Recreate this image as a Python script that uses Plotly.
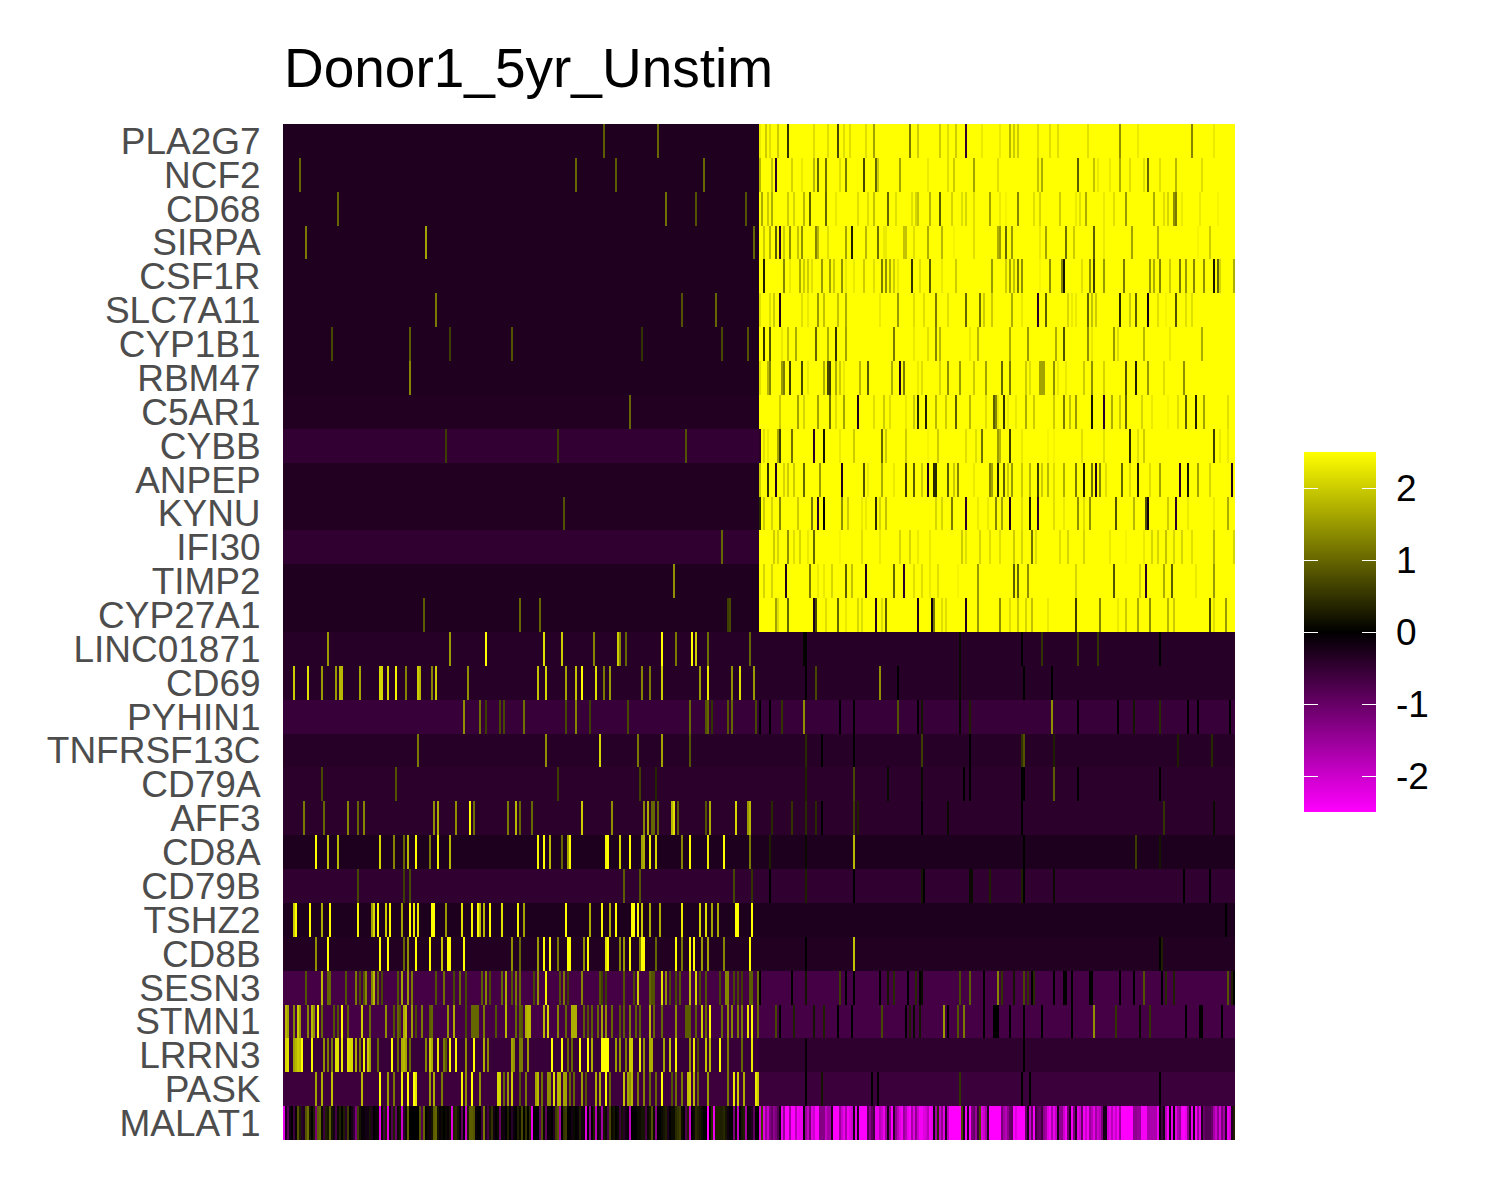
import plotly.graph_objects as go

GENES = ["PLA2G7","NCF2","CD68","SIRPA","CSF1R","SLC7A11","CYP1B1","RBM47","C5AR1","CYBB","ANPEP","KYNU","IFI30","TIMP2","CYP27A1",
         "LINC01871","CD69","PYHIN1","TNFRSF13C","CD79A","AFF3","CD8A","CD79B","TSHZ2","CD8B","SESN3","STMN1","LRRN3","PASK","MALAT1"]
N_CELLS = 476
SPLIT = 238
LEFT_BASE = [-0.3,-0.3,-0.3,-0.3,-0.3,-0.3,-0.3,-0.3,-0.32,-0.5,-0.33,-0.33,-0.47,-0.3,-0.3,
             -0.38,-0.38,-0.55,-0.38,-0.42,-0.42,-0.28,-0.47,-0.28,-0.33,-0.68,-0.68,-0.55,-0.6,0.0]
RIGHT_BASE = [2.5]*15 + [-0.38,-0.38,-0.55,-0.38,-0.42,-0.42,-0.28,-0.47,-0.28,-0.33,-0.68,-0.68,-0.45,-0.58,-1.5]

PLA2G7 = {160:0.9,187:1.0,238:2.3,241:2.0,243:2.2,247:2.0,252:0.5,265:2.2,272:2.2,277:0.7,280:2.2,283:2.2,291:2.2,295:1.6,313:1.2,317:2.0,328:2.0,332:2.2,336:2.0,341:-0.5,349:2.3,358:2.3,363:1.8,365:2.0,367:2.0,377:2.2,383:2.2,387:2.2,402:2.2,418:1.4,427:2.3,454:1.3,465:2.3}
NCF2 = {8:1.0,146:1.0,166:0.9,210:1.0,238:1.8,244:1.9,246:-0.4,254:2.1,259:2.3,265:1.8,267:1.0,271:1.1,278:2.2,281:1.2,290:0.7,296:1.0,297:2.0,308:1.6,322:2.3,332:2.2,335:2.0,345:1.6,357:2.2,377:1.9,379:1.7,397:0.9,405:1.9,407:2.3,413:2.3,418:1.7,423:2.2,430:2.2,432:1.0,438:2.2,446:1.8,459:2.2}
CD68 = {27:1.0,191:1.1,206:0.8,231:0.8,239:1.7,242:2.0,244:1.7,252:2.0,255:2.1,260:1.8,263:0.9,271:1.0,276:2.3,287:2.2,292:2.2,295:1.9,302:1.0,306:2.2,314:2.2,316:2.1,317:1.9,323:1.8,328:0.9,334:2.1,339:2.2,341:2.1,345:2.2,353:1.6,358:2.3,361:2.4,367:1.3,375:2.2,378:2.1,388:2.0,396:2.3,398:2.2,401:1.7,410:2.3,415:2.2,421:1.5,435:1.7,440:2.2,442:2.1,445:1.4,446:1.2,449:2.3,458:2.3,467:2.4}
SIRPA = {11:1.2,71:1.6,235:1.0,240:2.0,243:1.8,246:0.9,248:-0.4,250:2.0,253:1.4,257:1.9,259:1.4,266:1.3,267:1.8,272:2.2,281:1.6,284:0.3,291:1.8,297:1.1,300:2.3,301:2.3,310:1.9,311:1.9,315:2.2,322:1.7,329:1.8,335:2.4,345:2.2,357:1.7,358:1.5,361:1.0,364:1.5,378:2.3,381:1.6,391:1.1,395:2.0,405:0.9,410:2.3,424:1.6,437:1.8,457:2.4,463:2.0}
CSF1R = {240:0.3,250:1.3,253:2.3,258:1.7,260:2.0,262:2.0,264:2.2,269:1.5,273:1.6,275:2.0,279:1.4,281:2.3,285:2.3,290:2.0,295:2.2,299:1.2,301:1.4,303:1.7,305:2.0,307:2.3,314:0.5,318:2.2,323:0.9,329:2.3,336:2.0,354:1.5,361:2.0,363:1.6,365:1.9,367:1.2,369:1.4,378:2.4,383:1.4,389:1.3,390:0.2,399:2.2,403:1.4,405:0.6,410:1.5,420:1.2,433:1.5,435:1.7,438:1.3,443:2.0,448:1.2,451:1.5,455:1.3,460:1.4,465:0.2,467:1.0,468:2.1,475:1.7}
SLC7A11 = {76:1.2,199:0.8,216:1.0,238:2.2,243:2.2,245:2.0,248:-0.3,259:2.2,262:2.3,267:1.5,270:1.9,277:1.9,281:1.7,298:2.3,307:1.5,315:2.2,320:2.2,326:1.2,332:2.2,341:1.0,348:1.1,350:2.0,354:2.0,364:1.7,369:2.3,377:-0.4,381:0.9,392:2.1,394:2.3,396:2.3,402:1.0,404:1.9,406:2.0,418:0.4,423:2.0,426:0.9,432:-0.2,437:2.2,441:2.4,446:0.8,451:2.2,454:2.2}
CYP1B1 = {24:0.7,63:0.9,83:0.6,114:0.8,179:0.5,219:0.7,232:0.8,240:0.5,243:0.8,249:2.3,252:1.9,256:1.7,266:1.0,272:1.7,276:0.5,281:1.6,305:1.2,315:2.3,322:2.2,326:1.3,328:1.8,343:2.3,347:1.8,363:1.7,372:1.5,386:1.7,390:0.8,402:1.4,404:2.3,415:1.5,417:2.2,430:1.8,443:2.3,459:1.7}
RBM47 = {63:1.3,238:2.2,242:1.8,243:1.3,249:1.5,250:1.2,253:0.6,259:0.7,262:2.3,270:1.7,272:0.7,273:0.6,276:1.7,278:2.0,280:2.3,288:1.8,292:0.9,304:1.7,308:-0.3,310:1.2,317:2.3,319:2.2,328:2.1,332:1.4,338:1.5,345:2.0,351:1.6,359:1.0,363:1.2,371:2.0,373:2.2,378:1.6,379:1.6,380:1.6,385:1.4,387:2.3,391:2.3,400:2.0,404:1.4,410:2.1,421:0.8,426:0.3,432:1.5,440:2.2,450:1.4}
C5AR1 = {173:1.0,248:2.0,257:1.6,260:2.1,267:1.6,273:1.1,276:2.2,280:1.6,287:-0.3,295:2.2,300:2.0,303:2.2,311:2.3,315:2.0,317:0.4,321:0.3,326:1.8,331:2.0,336:0.9,343:1.8,351:2.2,355:0.9,356:1.3,357:2.3,360:0.5,362:2.3,366:2.3,371:1.7,375:2.0,385:2.0,390:1.2,393:1.9,396:1.5,404:0.2,410:-0.4,414:1.7,418:2.0,421:1.0,429:2.1,434:2.3,442:2.4,447:2.2,451:0.9,456:0.3,460:1.6,472:2.2}
CYBB = {81:0.6,137:0.6,201:0.8,238:-0.4,240:2.2,242:2.3,247:1.6,248:0.6,254:1.1,265:-0.4,270:0.2,278:2.3,285:2.0,299:1.0,301:2.0,311:2.0,322:2.4,327:2.0,341:2.2,346:2.2,349:1.1,357:1.5,358:1.8,363:0.6,369:2.3,382:2.4,385:2.4,399:2.2,410:2.2,423:0.4,427:2.2,430:2.0,465:0.6,468:2.3,472:2.3}
ANPEP = {238:2.0,242:0.5,246:-0.3,250:2.1,252:2.0,255:2.0,260:1.0,268:1.5,279:-0.3,290:0.8,292:2.3,299:1.7,305:2.3,311:0.6,315:0.9,319:2.0,322:-0.3,325:0.4,326:0.4,332:0.9,335:2.0,337:1.3,345:2.3,353:1.3,354:1.6,357:0.3,360:0.9,362:2.0,364:1.5,369:2.0,373:1.8,377:0.6,379:2.0,382:1.8,385:2.2,390:1.7,396:1.2,400:0.3,404:1.1,406:-0.3,408:1.3,411:2.2,419:1.0,423:2.2,427:0.3,433:2.2,438:1.6,448:-0.4,452:0.2,457:1.6,463:2.1,474:-0.3}
KYNU = {140:0.8,238:0.4,240:2.0,244:2.1,248:1.3,257:2.0,264:1.2,267:-0.4,270:0.0,279:1.4,282:2.0,289:2.3,291:2.3,296:0.4,298:2.1,301:1.9,326:2.1,329:2.1,334:1.2,341:-0.4,347:2.3,352:2.3,356:1.3,359:1.6,363:-0.3,369:2.2,373:0.3,377:-0.4,385:2.2,390:2.3,397:1.4,400:2.2,403:1.4,416:0.8,425:1.8,431:0.8,432:-0.2,442:2.0,446:-0.4,452:2.3,465:2.3,472:1.7}
IFI30 = {219:1.0,245:2.0,247:2.1,252:1.4,255:2.2,258:2.1,262:2.3,265:1.0,278:2.4,289:2.2,298:2.3,308:2.1,313:2.1,317:2.3,323:2.3,339:2.0,341:2.2,348:2.1,353:2.2,358:2.2,365:2.0,369:2.1,374:1.1,376:2.2,388:2.2,392:2.1,400:2.1,413:2.3,421:2.4,430:2.3,434:2.1,437:2.1,441:1.9,445:2.1,449:2.1,454:2.2,465:1.8,475:2.1}
TIMP2 = {195:1.4,240:2.1,244:2.1,251:-0.3,263:1.2,267:2.3,270:2.3,274:2.1,281:0.9,284:1.9,291:-0.3,305:1.0,310:-0.4,315:2.2,319:2.2,323:2.3,327:2.2,337:2.4,347:1.5,365:0.9,367:1.0,372:1.4,396:2.1,415:0.8,428:2.1,431:-0.4,440:1.7,444:0.9,456:2.3,465:1.5}
CYP27A1 = {70:0.9,118:1.0,128:1.0,222:0.6,223:0.7,246:1.6,247:2.2,252:1.0,265:-0.3,266:0.7,271:2.2,277:1.0,281:2.3,287:2.1,289:2.2,296:-0.3,299:2.2,301:0.9,317:-0.3,324:-0.2,325:1.2,329:2.2,331:2.2,341:-0.3,347:1.5,358:1.4,363:2.2,367:2.0,371:2.1,374:1.9,382:2.3,396:0.6,408:1.3,417:2.3,421:2.0,427:1.7,433:1.4,442:1.8,445:2.0,463:0.7,465:2.2,471:1.5}
LINC01871 = {22:1.5,83:1.5,101:2.5,130:2.2,139:2.0,155:1.3,167:2.0,168:1.3,171:1.0,189:2.5,196:1.2,204:2.5,206:2.0,212:1.1,233:1.0,260:0.05,261:0.0,338:0.1,369:0.0,379:0.5,397:0.6,407:0.5,438:0.0}
CD69 = {5:2.0,12:2.2,19:1.5,26:1.5,28:1.8,29:1.8,38:1.6,48:2.1,49:2.1,52:2.1,56:2.4,61:1.3,67:2.0,68:1.8,74:1.3,76:2.0,92:1.4,127:1.9,131:2.1,141:1.6,146:1.9,149:2.5,156:2.2,160:1.2,163:1.5,179:1.3,183:1.2,189:2.0,208:1.5,212:2.3,224:1.4,228:2.2,235:1.5,261:0.0,266:0.7,298:1.4,307:0.0,338:0.1,370:0.0,384:0.0}
PYHIN1 = {90:1.4,98:1.1,101:0.6,108:0.7,110:0.7,120:1.1,141:0.7,146:1.3,153:0.6,172:0.7,203:1.0,211:0.8,212:1.0,214:0.5,222:0.8,224:1.0,236:0.7,238:0.0,243:0.0,249:0.5,260:1.4,278:0.0,285:0.0,307:0.8,317:0.0,319:0.2,338:0.1,343:0.3,384:1.4,397:0.0,417:0.0,425:0.2,438:0.4,452:0.0,457:0.0,473:0.0}
TNFRSF13C = {67:1.2,131:1.4,158:2.1,177:1.2,189:1.6,203:0.8,261:0.4,269:0.0,285:0.0,319:0.6,343:0.0,369:0.5,370:0.8,385:0.3,447:0.3,464:0.4}
CD79A = {19:0.7,56:0.8,137:0.6,178:0.6,186:0.35,261:0.3,285:0.7,302:0.1,319:0.1,340:0.0,343:0.0,369:0.0,370:0.0,385:0.9,397:0.0,438:0.0}
AFF3 = {10:1.2,20:1.0,32:1.3,37:1.0,40:1.3,75:1.4,77:1.7,86:1.4,93:2.5,95:1.1,112:1.2,116:1.8,118:1.0,124:1.0,149:2.0,164:1.4,180:1.3,182:1.7,184:1.0,185:1.0,187:1.0,194:1.8,195:2.2,197:0.9,211:0.8,213:1.7,226:2.1,232:1.5,233:1.8,244:0.4,254:0.5,261:0.4,266:0.4,269:0.0,285:0.6,287:0.3,319:0.0,332:0.1,369:0.0,440:0.5,465:0.1}
CD8A = {16:2.5,22:1.9,27:1.8,48:2.1,55:1.3,60:1.0,62:1.8,66:2.5,73:1.2,77:2.4,83:1.8,127:2.4,130:2.5,133:1.8,139:1.0,142:1.6,143:2.5,161:2.4,162:2.5,168:2.1,173:2.5,179:1.6,180:1.7,183:2.4,186:2.1,199:1.3,203:2.5,212:2.3,220:2.5,233:1.2,243:0.3,261:0.1,285:1.8,370:0.0,426:0.6,438:0.2}
CD79B = {37:0.7,60:0.6,63:0.7,170:0.9,178:0.8,225:0.7,234:0.5,243:0.0,261:0.3,285:0.0,319:0.2,320:0.0,343:0.1,344:0.1,353:0.3,369:0.3,370:0.0,385:0.1,450:0.0,463:0.0}
TSHZ2 = {5:2.0,6:2.5,13:2.5,19:1.7,23:2.5,37:2.4,44:1.6,45:2.1,47:2.5,51:2.0,53:2.5,59:1.6,63:2.5,65:2.3,67:2.3,74:2.5,75:2.5,81:1.5,89:2.2,94:2.4,97:2.5,98:1.8,100:1.8,103:2.5,109:2.2,117:2.4,120:1.6,141:2.5,153:1.7,159:2.4,163:1.7,166:2.5,174:2.5,175:2.5,177:2.5,179:2.0,183:1.7,188:1.7,199:2.3,208:2.1,211:2.2,214:1.6,217:1.7,226:2.5,227:2.5,234:2.5,471:0.0}
CD8B = {16:1.4,22:2.5,48:2.5,52:2.5,60:1.0,62:1.4,66:2.5,73:2.5,79:1.9,82:2.5,83:2.5,90:2.5,114:1.4,118:1.0,127:1.5,130:2.5,133:2.5,137:1.2,142:2.5,143:2.5,150:1.4,152:2.5,161:2.2,162:2.5,168:1.3,170:1.5,173:2.5,178:1.3,179:2.5,180:2.5,186:1.0,196:2.5,199:1.2,203:2.5,205:2.5,209:1.5,212:1.6,220:1.3,233:2.5,261:0.0,285:1.9,438:0.0,439:0.3}
SESN3 = {11:0.8,19:1.8,22:1.0,23:1.0,31:0.8,36:1.2,38:0.7,40:0.8,41:1.3,44:1.3,45:1.8,47:1.0,49:0.7,57:0.8,59:1.6,62:1.5,64:1.2,76:0.8,80:1.1,85:0.7,88:1.0,91:0.7,99:0.9,101:1.3,103:0.7,109:1.0,111:1.7,114:0.8,116:1.2,118:1.0,125:0.7,127:1.4,131:2.4,138:0.8,140:1.2,142:0.6,149:1.3,158:0.8,159:0.6,161:0.6,170:0.8,175:0.7,177:2.0,183:1.0,184:0.8,185:0.8,189:2.2,191:1.4,193:0.7,196:0.7,198:0.8,203:1.8,206:2.1,208:0.7,211:0.8,218:0.7,221:1.3,222:1.3,225:0.7,227:0.7,229:0.6,233:0.9,234:0.9,237:1.1,238:0.0,254:0.0,261:0.2,278:0.6,281:0.0,285:0.0,298:0.0,302:0.2,305:0.4,312:0.0,316:0.4,318:0.0,319:0.1,338:0.7,343:0.9,350:0.0,357:1.3,359:0.5,365:0.2,370:0.7,372:0.5,374:0.0,375:0.4,385:0.0,390:0.0,391:0.0,394:0.0,403:0.0,404:0.0,418:0.0,425:0.0,430:0.8,439:0.0,441:0.4,445:0.3,472:0.8,474:0.3,475:0.0}
STMN1 = {1:1.8,2:1.6,5:1.3,7:2.0,8:1.5,12:1.3,14:1.8,15:1.4,17:2.5,19:1.0,25:0.8,27:0.8,29:2.5,32:0.9,39:2.0,43:1.0,51:1.4,55:0.8,57:1.0,58:0.8,60:1.7,61:1.9,64:1.5,66:0.7,69:1.2,73:0.9,74:1.0,82:1.4,85:1.7,91:0.7,94:1.0,95:1.0,96:1.0,97:1.0,100:1.2,106:0.8,111:1.8,116:1.0,118:0.9,119:0.8,121:1.7,122:1.8,123:1.8,130:1.8,132:2.1,137:1.3,141:1.0,144:1.7,145:1.7,146:1.7,150:0.9,152:0.8,154:0.9,157:1.0,159:1.6,161:1.4,164:1.0,168:0.8,170:0.9,173:1.2,176:0.9,178:0.9,183:1.8,185:1.0,189:1.0,196:1.4,201:0.9,202:0.9,203:0.9,206:0.9,209:2.0,211:1.0,213:2.5,219:1.0,222:1.4,224:1.3,227:1.2,229:1.2,232:2.3,234:2.5,237:1.0,246:0.7,248:0.0,255:0.3,265:0.2,270:0.3,277:0.0,284:0.0,299:0.7,311:0.0,313:0.3,315:0.1,318:0.2,330:1.5,332:0.0,337:0.8,340:1.2,350:0.0,355:0.0,356:0.0,357:0.0,363:0.0,370:0.0,379:0.0,394:0.0,405:1.4,416:0.5,428:0.1,433:0.5,451:0.0,458:0.0,459:0.0,469:0.0}
LRRN3 = {1:2.1,2:2.2,5:1.6,6:1.8,7:2.0,8:1.9,9:2.5,14:2.4,20:1.4,22:1.2,24:1.2,26:2.2,27:2.2,29:2.3,32:2.2,33:2.1,34:2.1,36:1.7,38:1.2,40:2.4,42:2.0,43:1.6,47:1.0,54:2.5,57:1.0,59:1.7,60:1.8,61:1.6,63:1.0,71:1.3,73:2.0,74:1.7,77:2.3,80:1.2,81:0.9,83:2.5,86:2.4,91:1.4,95:2.5,100:1.7,102:1.3,114:1.6,115:1.4,118:1.2,119:1.2,122:1.5,134:2.5,139:2.5,142:1.0,144:1.0,148:2.5,152:2.5,154:1.7,159:2.5,160:2.5,161:2.5,162:2.5,166:1.5,168:1.4,171:1.2,173:2.0,174:2.0,178:2.3,180:1.4,183:1.7,184:1.7,190:1.6,193:1.9,196:2.4,203:1.4,205:2.3,207:0.7,211:1.9,213:1.8,218:2.5,222:1.2,229:1.0,234:2.3,261:-0.1,370:0.0}
PASK = {16:1.6,19:1.7,24:1.9,39:1.8,48:2.5,52:1.5,55:1.2,59:2.3,62:2.5,65:2.5,66:2.3,73:1.5,75:1.7,79:1.2,89:2.4,91:1.4,94:2.5,98:1.4,107:2.1,108:2.1,110:1.0,112:1.5,114:2.0,118:0.8,121:1.2,126:1.6,127:1.8,129:1.1,132:1.4,133:1.4,135:2.2,137:1.8,138:1.8,140:1.6,141:1.6,143:1.0,145:1.0,149:1.5,151:0.8,156:1.7,158:1.7,161:2.5,163:1.0,170:1.9,172:1.6,173:1.4,174:1.8,177:1.2,180:1.3,183:1.0,186:1.0,189:2.5,194:0.8,196:1.1,199:1.2,202:1.9,203:2.0,205:1.8,207:1.0,212:1.5,222:1.2,225:2.3,227:2.0,230:1.7,236:2.3,237:2.0,261:0.0,269:0.2,294:0.0,297:0.0,338:0.5,369:0.0,373:0.0,438:0.0}
MALAT1_LEFT = [-2.3,-0.3,-0.9,-0.2,0.0,-0.6,-0.1,0.8,0.3,-0.4,-0.3,0.8,1.1,0.2,0.0,0.3,-1.2,0.9,1.0,0.1,-0.6,0.3,0.2,0.9,0.2,-0.2,-0.7,0.1,0.3,0.0,
 0.3,-0.4,0.6,0.0,-0.2,-0.5,-1.2,0.6,0.2,-0.1,-0.1,-0.2,-0.2,0.2,-0.3,0.0,-0.1,0.1,-2.3,0.1,-0.7,0.3,-2.2,0.1,-0.8,0.3,-1.0,0.1,0.2,-2.0,
 -0.4,0.1,0.9,0.0,0.0,0.0,0.0,0.0,0.8,-0.8,1.0,0.0,0.1,-0.2,0.2,0.9,1.0,0.2,-0.1,0.1,0.0,0.1,-0.1,0.2,-2.2,0.3,0.4,0.2,-0.1,-0.9,
 0.0,-2.0,0.3,0.9,0.9,0.8,-0.1,0.0,0.0,-0.6,1.2,-0.3,-0.7,0.2,0.5,-0.2,0.0,0.1,-1.0,0.1,-0.2,0.0,0.3,0.0,-0.4,-0.1,0.0,0.3,0.1,0.7,
 0.0,0.5,0.0,0.4,-2.3,0.0,0.0,0.0,-0.9,0.8,0.1,-0.9,-0.1,-0.1,0.0,-0.3,0.6,0.8,-1.6,0.0,0.5,0.6,0.0,0.0,-0.2,0.1,0.0,-0.1,0.3,-0.2,
 0.1,-2.2,0.0,-1.4,0.0,0.3,-1.8,0.1,-0.3,-1.6,0.2,0.1,-0.7,0.7,0.1,0.2,0.0,0.1,-0.6,0.2,-0.4,-0.2,-0.1,-1.9,0.0,0.0,0.0,0.1,0.1,0.2,
 0.2,-0.7,0.1,0.2,0.8,0.1,-1.3,0.0,0.0,0.1,0.2,0.3,-0.3,0.0,0.1,0.1,0.4,0.5,0.6,0.1,0.0,-0.8,0.3,-2.0,0.0,0.1,0.4,0.3,0.2,0.1,
 0.0,0.0,-2.5,0.0,0.4,-2.3,0.3,0.3,0.3,0.3,0.4,0.2,-0.2,0.0,0.0,-1.2,0.1,-1.9,0.0,0.2,0.3,-1.6,0.1,-0.2,-0.3,-0.9,0.0,0.0]
MALAT1_RIGHT = [-2.2,0.6,-2.2,-1.5,-2.0,-1.3,-1.0,-1.4,-1.2,-0.8,
 -0.2,-2.3,-1.5,-2.5,-2.5,-1.6,-2.5,-2.5,-1.8,-2.4,
 -2.3,-2.3,-0.1,-1.5,-1.9,-1.2,-2.2,-2.0,-2.5,-2.5,
 -1.3,-1.3,-1.3,-1.9,-1.6,-1.6,-0.3,-2.5,-2.5,-2.5,
 -1.5,-2.0,-2.3,-1.7,-2.4,-2.2,-2.0,-0.2,-2.3,-0.3,
 -2.5,-2.5,-2.5,-2.5,-0.8,-1.3,-0.9,-0.6,-2.3,-2.3,
 -1.8,-2.0,-2.3,-1.5,-0.2,-1.4,-2.5,-0.4,-1.4,-1.8,
 -2.2,-2.4,-1.5,-1.8,-2.3,-2.5,-1.6,-2.2,-1.4,-2.0,
 -2.4,-2.4,-2.2,-2.1,-1.8,-2.4,-2.3,-0.2,-1.6,0.4,
 -2.0,-1.4,-2.2,-0.3,-1.8,-2.5,-2.5,-2.5,-2.5,-2.5,
 -2.5,0.7,-0.2,-2.4,-0.3,-2.5,-1.2,-1.0,-1.5,-0.6,
 0.7,-2.2,-2.0,-1.6,-0.3,-2.5,-2.5,-2.5,-2.5,-2.5,
 -2.5,-1.2,-1.6,-1.8,-1.4,-1.0,-0.9,-2.5,-2.2,-2.5,
 -2.5,-2.5,-2.5,-1.0,-0.2,-2.0,-1.0,-2.4,-0.6,-0.9,
 -1.0,-0.6,-1.4,-1.6,-2.2,-2.4,-1.7,-2.3,-1.9,-0.2,
 -1.4,-1.4,-2.0,-2.4,-1.1,-0.3,-2.4,-1.2,-0.3,-2.2,
 -2.0,-1.0,-2.4,-2.0,-2.4,-1.5,-1.8,-2.2,-1.6,-2.0,
 -1.8,-1.2,-0.2,-0.2,-2.0,-2.3,-1.8,-2.3,-2.0,-2.4,
 -1.5,-2.5,-2.5,-2.5,-2.5,-2.5,-2.5,-1.4,-1.4,-1.5,
 -1.5,-2.4,-2.4,-2.4,-1.7,-1.7,-1.7,-1.7,-1.7,-2.3,
 -0.1,-0.6,-0.2,-1.8,-2.4,-0.2,-2.3,-0.1,-2.2,-1.7,
 -1.5,-2.4,-2.5,-2.3,-1.4,-0.4,-2.3,-0.2,-2.4,-1.5,
 -2.2,-0.3,-1.0,-0.8,-0.8,-0.8,-1.0,-1.6,-2.0,-1.4,
 -2.1,-1.2,-1.6,-0.4,-2.3,-2.1,-0.3,0.3]
COLORBAR_TICKS = [-2, -1, 0, 1, 2]
COLORBAR_LABELS = ["-2", "-1", "0", "1", "2"]
TITLE = "Donor1_5yr_Unstim"

CELLS = [PLA2G7,NCF2,CD68,SIRPA,CSF1R,SLC7A11,CYP1B1,RBM47,C5AR1,CYBB,ANPEP,KYNU,IFI30,TIMP2,CYP27A1,
         LINC01871,CD69,PYHIN1,TNFRSF13C,CD79A,AFF3,CD8A,CD79B,TSHZ2,CD8B,SESN3,STMN1,LRRN3,PASK]

z = []
for i, gene in enumerate(GENES):
    row = [LEFT_BASE[i]] * SPLIT + [RIGHT_BASE[i]] * (N_CELLS - SPLIT)
    if gene == "MALAT1":
        for j, v in enumerate(MALAT1_LEFT[:SPLIT]):
            row[j] = v
        for j, v in enumerate(MALAT1_RIGHT[:N_CELLS - SPLIT]):
            row[SPLIT + j] = v
    else:
        for j, v in CELLS[i].items():
            if j < N_CELLS:
                row[j] = v
    z.append(row)

OFFSET = 8  # default page margin of the written html
FIG_W, FIG_H = 1484, 1184
L, R, T, B = 283 - OFFSET, FIG_W - (1235 - OFFSET), 124 - OFFSET, FIG_H - (1140 - OFFSET)
plot_w, plot_h = 1235 - 283, 1140 - 124
SCALE = [[0, "#ff00ff"], [0.5, "#000000"], [1, "#ffff00"]]
CB_Y = (1140 - 632) / plot_h

fig = go.Figure(go.Heatmap(
    z=z, x=list(range(N_CELLS)), y=GENES, zmin=-2.5, zmax=2.5, colorscale=SCALE,
    colorbar=dict(
        x=(1304 - 283) / plot_w, xanchor="left", y=CB_Y, yanchor="middle",
        thickness=72, thicknessmode="pixels", len=360, lenmode="pixels",
        xpad=0, ypad=0, outlinewidth=0, borderwidth=0,
        tickmode="array", tickvals=COLORBAR_TICKS, ticktext=COLORBAR_LABELS,
        ticks="outside", ticklen=13, tickcolor="rgba(0,0,0,0)",
        tickfont=dict(family="Liberation Sans", size=37, color="black"),
    ),
))

# Two narrow companion colour bars carry the white tick marks on both inner edges of the bar.
for left_px in (1304, 1362):
    fig.add_trace(go.Heatmap(
        z=z, x=list(range(N_CELLS)), y=GENES, zmin=-2.5, zmax=2.5, colorscale=SCALE,
        colorbar=dict(
            x=(left_px - 283) / plot_w, xanchor="left", y=CB_Y, yanchor="middle",
            thickness=14, thicknessmode="pixels", len=360, lenmode="pixels",
            xpad=0, ypad=0, outlinewidth=0, borderwidth=0,
            tickmode="array", tickvals=COLORBAR_TICKS, showticklabels=False,
            ticks="inside", ticklen=14, tickwidth=1.3, tickcolor="white",
        ),
    ))

fig.update_layout(
    width=FIG_W, height=FIG_H, autosize=False,
    margin=dict(l=L, r=R, t=T, b=B, pad=0),
    plot_bgcolor="white", paper_bgcolor="white",
    font=dict(family="Liberation Sans"),
    title=dict(text=TITLE, font=dict(family="Liberation Sans", size=55, color="black"),
               xref="paper", x=0.001, xanchor="left", yref="container", y=1 - (68 - OFFSET) / FIG_H, yanchor="middle"),
    xaxis=dict(showticklabels=False, showgrid=False, zeroline=False, ticks="", showline=False,
               range=[-0.5, N_CELLS - 0.5]),
    yaxis=dict(autorange="reversed", showgrid=False, zeroline=False, showline=False,
               tickmode="array", tickvals=GENES, ticktext=GENES,
               ticks="outside", ticklen=14, tickcolor="rgba(0,0,0,0)",
               tickfont=dict(family="Liberation Sans", size=37, color="#4d4d4d")),
)
fig.write_html("out.html")
